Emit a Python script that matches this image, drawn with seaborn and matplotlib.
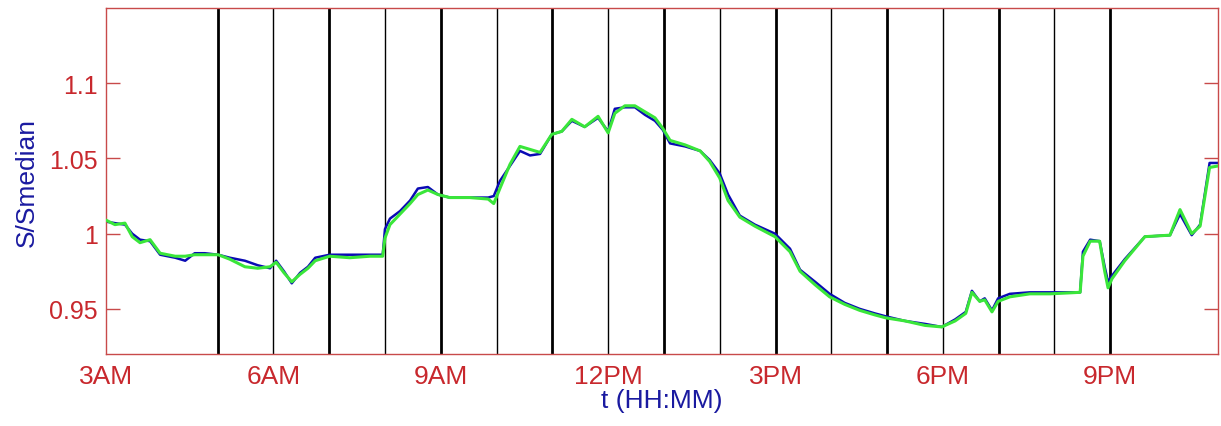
import matplotlib
matplotlib.use("Agg")
import matplotlib.pyplot as plt
import seaborn as sns
import pandas as pd

hours = [3.00, 3.16, 3.34, 3.47, 3.61, 3.79, 3.97, 4.24, 4.42, 4.59, 4.77, 5.01, 5.22, 5.49, 5.72, 5.94,
         6.05, 6.19, 6.33, 6.48, 6.62, 6.75, 7.01, 7.37, 7.73, 7.96, 8.00, 8.09, 8.27, 8.45, 8.59, 8.77,
         8.95, 9.16, 9.52, 9.85, 9.95, 10.06, 10.24, 10.42, 10.60, 10.78, 10.99, 11.17, 11.35, 11.58,
         11.82, 12.00, 12.12, 12.30, 12.48, 12.66, 12.84, 12.98, 13.11, 13.38, 13.65, 13.82, 14.00,
         14.15, 14.36, 14.63, 14.99, 15.26, 15.44, 15.71, 15.97, 16.24, 16.51, 16.78, 16.98, 17.32,
         17.68, 17.98, 18.22, 18.41, 18.52, 18.66, 18.75, 18.88, 18.99, 19.20, 19.56, 19.92, 20.46,
         20.51, 20.64, 20.81, 20.90, 20.96, 21.03, 21.26, 21.62, 22.07, 22.25, 22.46, 22.61, 22.78, 22.93]

s_blue = [1.008, 1.007, 1.006, 1.000, 0.996, 0.995, 0.986, 0.984, 0.982, 0.987, 0.987, 0.986, 0.984,
          0.982, 0.979, 0.977, 0.982, 0.975, 0.967, 0.974, 0.978, 0.984, 0.986, 0.986, 0.986, 0.986,
          1.003, 1.010, 1.015, 1.022, 1.030, 1.031, 1.026, 1.024, 1.024, 1.024, 1.025, 1.035, 1.045,
          1.055, 1.052, 1.053, 1.066, 1.068, 1.075, 1.071, 1.077, 1.068, 1.083, 1.084, 1.084, 1.079,
          1.075, 1.069, 1.060, 1.058, 1.055, 1.049, 1.040, 1.026, 1.012, 1.006, 1.000, 0.990, 0.976,
          0.968, 0.960, 0.954, 0.950, 0.947, 0.945, 0.942, 0.940, 0.938, 0.943, 0.948, 0.962, 0.955,
          0.957, 0.949, 0.957, 0.960, 0.961, 0.961, 0.961, 0.988, 0.996, 0.995, 0.978, 0.968, 0.972,
          0.983, 0.998, 0.999, 1.013, 0.999, 1.006, 1.047, 1.047]

s_green = [1.009, 1.006, 1.007, 0.998, 0.994, 0.996, 0.987, 0.985, 0.985, 0.986, 0.986, 0.986, 0.983,
           0.978, 0.977, 0.978, 0.981, 0.974, 0.968, 0.973, 0.977, 0.982, 0.985, 0.984, 0.985, 0.985,
           0.997, 1.006, 1.013, 1.020, 1.026, 1.029, 1.026, 1.024, 1.024, 1.023, 1.020, 1.030, 1.046,
           1.058, 1.056, 1.054, 1.066, 1.068, 1.076, 1.071, 1.078, 1.067, 1.080, 1.085, 1.085, 1.081,
           1.077, 1.070, 1.062, 1.059, 1.055, 1.048, 1.037, 1.022, 1.011, 1.005, 0.998, 0.988, 0.975,
           0.966, 0.958, 0.953, 0.949, 0.946, 0.944, 0.942, 0.939, 0.938, 0.942, 0.947, 0.961, 0.955,
           0.956, 0.948, 0.955, 0.958, 0.960, 0.960, 0.961, 0.985, 0.995, 0.995, 0.975, 0.964, 0.970,
           0.982, 0.998, 0.999, 1.016, 1.000, 1.005, 1.044, 1.045]

tick_hours = [3, 6, 9, 12, 15, 18, 21]
tick_labels = ["3AM", "6AM", "9AM", "12PM", "3PM", "6PM", "9PM"]
grid_hours = list(range(5, 22))
y_ticks = [0.95, 1.0, 1.05, 1.1]
y_tick_labels = ["0.95", "1", "1.05", "1.1"]

df = pd.DataFrame({"t": hours, "blue": s_blue, "green": s_green})

sns.set_style("white")
plt.rcParams["font.family"] = ["Liberation Sans", "DejaVu Sans"]

fig = plt.figure(figsize=(12.21, 4.27), dpi=100)
ax = fig.add_axes([0.0868, 0.1686, 0.9107, 0.8103])

for h in grid_hours:
    ax.axvline(h, color="black", lw=2.0 if h % 2 == 1 else 1.0, zorder=1)

sns.lineplot(data=df, x="t", y="blue", ax=ax, color="#0a0ab4", lw=1.8, zorder=2)
sns.lineplot(data=df, x="t", y="green", ax=ax, color="#3ae63a", lw=2.2, zorder=3)

ax.set_xlim(3, 22.93)
ax.set_ylim(0.92, 1.15)
ax.set_xticks(tick_hours)
ax.set_xticklabels(tick_labels)
ax.set_yticks(y_ticks)
ax.set_yticklabels(y_tick_labels)

red = "#c8282d"
for sp in ax.spines.values():
    sp.set_color("#c84a4a")
    sp.set_linewidth(1.0)
ax.tick_params(axis="y", direction="in", length=10, width=1, color="#c84a4a",
               labelcolor=red, labelsize=18, right=True, left=True, pad=6)
ax.tick_params(axis="x", length=0, labelcolor=red, labelsize=19, pad=7)

ax.set_xlabel("t (HH:MM)", color="#1a1aa0", fontsize=19, labelpad=0)
ax.set_ylabel("S/Smedian", color="#1a1aa0", fontsize=19, labelpad=7)

fig.savefig("out.png", dpi=100, facecolor="white")
